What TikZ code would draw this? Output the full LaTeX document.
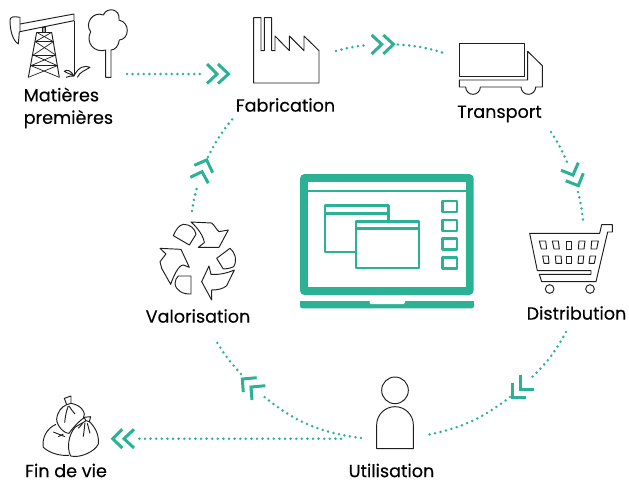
\documentclass[tikz,border=0pt]{standalone}
\usepackage{fontspec}
\setmainfont{Poppins}[FakeBold=0.25]
\definecolor{teal1}{HTML}{2BB295}
\definecolor{ink}{HTML}{1E1E1E}
\tikzset{
  lbl/.style={font=\fontsize{17.6}{22.5}\selectfont,text=black,inner sep=0pt},
  dots/.style={teal1,line width=2.8pt,line cap=round,dash pattern=on 0pt off 5.6pt},
  chev/.style={teal1,line width=3pt,line cap=butt,miter limit=10},
  ico/.style={ink,line width=0.95pt,line join=round},
  lap/.style={teal1,line width=2.1pt,line join=round},
  zoomed/.style={x=0.33333pt,y=-0.33333pt}
}
\begin{document}
\begin{tikzpicture}[x=1pt,y=-1pt]
\useasboundingbox (0,0) rectangle (629,480);
% labels
\node[lbl,anchor=west,align=left] (mp) at (23.5,108) {Matières\\premières};
\node[lbl] (fab) at (285.5,105) {Fabrication};
\node[lbl] (tra) at (499.5,114) {Transport};
\node[lbl] (dis) at (576.5,313) {Distribution};
\node[lbl] (val) at (198,316) {Valorisation};
\node[lbl] (uti) at (391.5,470.5) {Utilisation};
\node[lbl] (fin) at (66,470.5) {Fin de vie};
% connector ends
\coordinate (a0) at (127,74); \coordinate (a1) at (200,74);
\coordinate (b0) at (336,51); \coordinate (b1) at (368,45);
\coordinate (b2) at (398,44.5); \coordinate (b3) at (447,54);
\coordinate (c0) at (551,132); \coordinate (c1) at (567,162);
\coordinate (c2) at (578,192); \coordinate (c3) at (583,220);
\coordinate (d0) at (566,332); \coordinate (d1) at (529,380);
\coordinate (d2) at (510,397); \coordinate (d3) at (427,435);
\coordinate (e0) at (361,438); \coordinate (e1) at (262,395);
\coordinate (e2) at (241,374); \coordinate (e3) at (215,339);
\coordinate (f0) at (192,211); \coordinate (f1) at (198,184);
\coordinate (f2) at (208,157); \coordinate (f3) at (235,116);
\coordinate (g0) at (341,438.7); \coordinate (g1) at (138,438.7);
\draw[dots] (a0) -- (a1);
\draw[dots] (b0) to[bend left=5] (b1);
\draw[dots] (b2) to[bend left=7] (b3);
\draw[dots] (c0) to[bend left=5] (c1);
\draw[dots] (c2) to[bend left=4] (c3);
\draw[dots] (d0) to[bend left=9] (d1);
\draw[dots] (d2) to[bend left=13] (d3);
\draw[dots] (e0) to[bend left=16] (e1);
\draw[dots] (e2) to[bend left=6] (e3);
\draw[dots] (f0) to[bend left=4] (f1);
\draw[dots] (f2) to[bend left=7] (f3);
\draw[dots] (g0) -- (g1);
% chevrons
\draw[chev] (207,64)--(217,74)--(207,83.5);
\draw[chev] (218,64)--(228.5,74)--(218,83.5);
\draw[chev] (371.7,35)--(381.7,44.3)--(371.7,54);
\draw[chev] (383.3,35)--(393.5,44.3)--(383.3,54);
\draw[chev] (578.3,162.7)--(573,175)--(561,170.3);
\draw[chev] (583.3,173.3)--(578.3,185.7)--(565.7,180.7);
\draw[chev] (520.7,375)--(520.7,389.3)--(534,389.3);
\draw[chev] (512,383.3)--(512,397.3)--(525.7,397.3);
\draw[chev] (256.7,377.7)--(242.3,379)--(243.3,392);
\draw[chev] (265.3,385.7)--(251,387)--(252,400);
\draw[chev] (194.3,165.3)--(206.7,160)--(212.7,172.7);
\draw[chev] (190.3,177.3)--(202,171.7)--(208.3,183.3);
\draw[chev] (122.3,429.3)--(112.7,438.7)--(122.3,448);
\draw[chev] (134,429.3)--(124,438.7)--(134,448);
% laptop
\fill[teal1,rounded corners=4.5pt] (300,174) rectangle (473.7,295);
\fill[white] (308,181.7) rectangle (465.7,287.3);
\fill[teal1] (308,190.2) rectangle (465.7,192.2);
\fill[teal1,rounded corners=2.5pt] (300,301) -- (300,308.4) -- (474,308.4) -- (474,301) -- cycle;
\fill[teal1] (300,301) rectangle (474,304);
\fill[white,rounded corners=1.5pt] (369.5,300) -- (369.5,304) -- (405,304) -- (405,300) -- cycle;
\draw[lap] (325,205.5) rectangle (388.5,252);
\draw[lap] (325,213.5) -- (388.5,213.5);
\draw[lap,fill=white] (356,221.5) rectangle (419,268);
\draw[lap] (356,228.5) -- (419,228.5);
\draw[lap] (442.5,201) rectangle (457,212);
\draw[lap] (442.5,220) rectangle (457,231);
\draw[lap] (442.5,238.5) rectangle (457,249.5);
\draw[lap] (442.5,257.5) rectangle (457,268.5);
% pump jack and tree
\begin{scope}[zoomed,ico]
\draw (60,72) -- (222,42) -- (222,62) -- (60,95);
\draw (60,95) -- (60,52) .. controls (40,48) and (30,50) .. (30,62) .. controls (30,90) and (38,122) .. (55,132) -- (58,95);
\draw (222,62) -- (222,225);
\draw[fill=gray!70] (127,82) rectangle (137,97);
\draw (110,97) -- (155,97);
\draw (110,97) -- (85,232) (155,97) -- (178,232);
\begin{scope}[line width=0.7pt]
\draw (106,125) -- (160,125) (100,165) -- (167,165) (93,197) -- (172,197);
\draw (110,97) -- (160,125) -- (100,165) -- (172,197) -- (85,232);
\draw (155,97) -- (106,125) -- (167,165) -- (93,197) -- (178,232);
\end{scope}
\draw (222,228) .. controls (212,210) and (200,208) .. (193,214) .. controls (205,222) and (215,222) .. (222,228);
\draw (222,228) .. controls (235,200) and (255,195) .. (270,202) .. controls (255,212) and (240,215) .. (232,232);
\draw (222,228) .. controls (215,228) and (205,228) .. (198,232);
\draw (317,232) -- (317,150) .. controls (285,160) and (255,130) .. (272,95) .. controls (252,70) and (280,32) .. (310,45) .. controls (320,20) and (362,25) .. (357,60) .. controls (392,68) and (388,118) .. (358,120) .. controls (356,138) and (345,150) .. (333,150) -- (333,232) -- cycle;
\end{scope}
% factory and truck
\begin{scope}[shift={(230,0)},zoomed,ico]
\draw (71,53) -- (71,249) -- (267,249) -- (267,152) -- (222,108) -- (222,152) -- (178,108) -- (178,152) -- (135,108) -- (135,152) -- (125,152) -- (125,53) -- (103,53) -- (103,152) -- (93,152) -- (93,53) -- cycle;
\draw (688,131) rectangle (884,229);
\draw (893,154) -- (937,197) -- (937,261) -- (917,261) arc[start angle=0,end angle=180,radius=22] -- (751,261) arc[start angle=0,end angle=180,radius=22] -- (688,261) -- (688,240) -- (893,240) -- cycle;
\end{scope}
% cart
\begin{scope}[shift={(500,130)},zoomed,ico]
\draw (89,310) -- (299,310) -- (305,284) -- (337,284) -- (337,306) -- (323,306) -- (288,455) -- (125,455) -- (118,433) -- (273,433) -- (273,422) -- (112,422) -- cycle;
\draw (149,477) circle[radius=13];
\draw (270,477) circle[radius=13];
\foreach \a/\b/\c/\d in {118/137/140/124,157/175/178/162,198.5/214.5/214.5/198.5,237/255/252/235,275/295/290/273}
  \draw (\a,333) -- (\b,333) -- (\c,357) -- (\d,357) -- cycle;
\foreach \a/\b/\c/\d in {128/145/147/132,166/183/185/168,200.5/214.5/214.5/200.5,236/251/249/234,270/287/283/267}
  \draw (\a,378) -- (\b,378) -- (\c,400) -- (\d,400) -- cycle;
\end{scope}
% recycling
\begin{scope}[shift={(155,215)},zoomed,ico]
\draw (108,21) -- (170,24) .. controls (178,30) and (185,45) .. (192,50) -- (220,45) -- (192,97) -- (130,97) -- (148,83) .. controls (146,65) and (130,40) .. cycle;
\draw (55,62) .. controls (62,45) and (72,30) .. (85,28) .. controls (105,28) and (120,40) .. (123,58) -- (103,90) -- cycle;
\draw (185,130) -- (225,100) .. controls (240,112) and (248,135) .. (236,155) .. controls (225,160) and (215,162) .. (205,162) -- cycle;
\draw (238,165) -- (215,212) .. controls (205,222) and (185,225) .. (170,225) -- (170,255) -- (140,200) -- (162,153) -- (168,178) .. controls (190,180) and (215,175) .. cycle;
\draw (15,100) -- (78,103) -- (103,157) -- (85,150) .. controls (70,150) and (55,185) .. (47,208) -- (20,160) -- (15,140) -- (33,117) -- cycle;
\draw (70,183) -- (108,183) -- (108,237) .. controls (85,238) and (62,228) .. (60,205) .. controls (60,195) and (65,188) .. cycle;
\end{scope}
% person
\begin{scope}[shift={(330,350)},zoomed,ico]
\draw (195,121) circle[radius=40];
\draw (140,296) -- (140,225) arc[start angle=180,end angle=360,radius=55] -- (250,296) -- cycle;
\draw[line width=1.6pt] (140,296) -- (250,296);
\end{scope}
% rubbish bags
\begin{scope}[shift={(0,370)},zoomed,ico]
\draw (200,104) -- (193,85) -- (213,78) -- (213,100) .. controls (245,105) and (260,130) .. (250,145) .. controls (235,155) and (215,178) .. (207,190) .. controls (190,190) and (170,165) .. (170,148) .. controls (172,125) and (185,110) .. (200,104) -- (213,100);
\draw (205,108) .. controls (198,125) and (196,140) .. (194,158);
\draw (207,108) .. controls (212,118) and (220,125) .. (225,132);
\draw (168,163) .. controls (140,175) and (125,205) .. (130,232) .. controls (150,250) and (180,258) .. (207,256);
\draw (160,186) -- (195,200) (175,200) -- (190,192);
\draw (258,152) -- (252,142) -- (272,140) -- (268,155) .. controls (285,170) and (298,195) .. (295,222) .. controls (285,245) and (240,265) .. (212,258) .. controls (200,235) and (205,195) .. (225,172) .. controls (235,165) and (250,158) .. (258,152) -- (268,155);
\draw (255,158) -- (250,200) (262,160) -- (270,190) (248,160) -- (235,175);
\end{scope}
\end{tikzpicture}
\end{document}
